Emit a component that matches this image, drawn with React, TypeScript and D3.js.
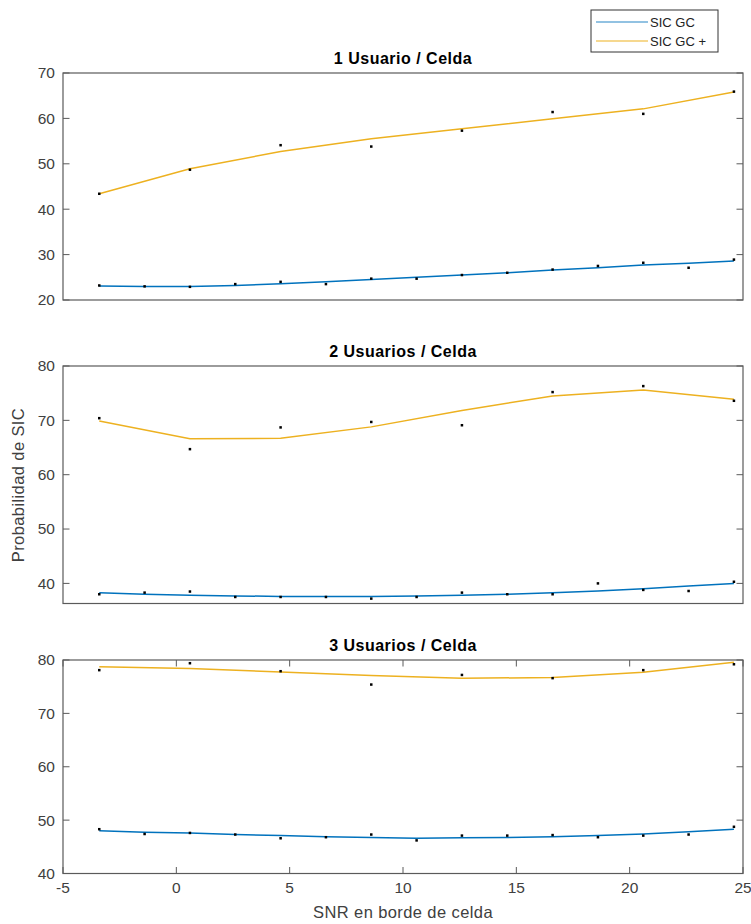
import React from "react";
import * as d3 from "d3";

const xAll = [-3.4, -1.4, 0.6, 2.6, 4.6, 6.6, 8.6, 10.6, 12.6, 14.6, 16.6, 18.6, 20.6, 22.6, 24.6];
const xPlus = [-3.4, 0.6, 4.6, 8.6, 12.6, 16.6, 20.6, 24.6];

const titles = ["1 Usuario / Celda", "2 Usuarios / Celda", "3 Usuarios / Celda"];
const yDomains: [number, number][] = [[20, 70], [36.3, 80], [40, 80]];
const yTicks = [[20, 30, 40, 50, 60, 70], [40, 50, 60, 70, 80], [40, 50, 60, 70, 80]];
const xTicks = [-5, 0, 5, 10, 15, 20, 25];

// SIC GC (blue) raw points and fitted curve
const gcDots1 = [23.2, 23.0, 22.9, 23.5, 24.0, 23.5, 24.7, 24.7, 25.5, 26.0, 26.7, 27.5, 28.2, 27.1, 28.9];
const gcFit1 = [23.1, 23.0, 23.0, 23.2, 23.6, 24.0, 24.5, 25.0, 25.5, 26.0, 26.6, 27.1, 27.7, 28.1, 28.6];
const gcDots2 = [38.0, 38.3, 38.5, 37.5, 37.5, 37.5, 37.2, 37.5, 38.3, 38.0, 38.0, 40.0, 38.8, 38.6, 40.3];
const gcFit2 = [38.3, 38.0, 37.8, 37.7, 37.6, 37.6, 37.6, 37.7, 37.8, 38.0, 38.3, 38.6, 39.0, 39.5, 40.0];
const gcDots3 = [48.3, 47.4, 47.6, 47.3, 46.6, 46.8, 47.3, 46.2, 47.1, 47.1, 47.2, 46.8, 47.1, 47.3, 48.75];
const gcFit3 = [48.0, 47.75, 47.6, 47.3, 47.1, 46.9, 46.75, 46.6, 46.7, 46.75, 46.9, 47.1, 47.4, 47.8, 48.3];

// SIC GC + (orange) raw points and fitted curve
const plusDots1 = [43.4, 48.7, 54.1, 53.8, 57.3, 61.4, 61.0, 65.9];
const plusFit1 = [43.4, 48.9, 52.7, 55.5, 57.7, 59.9, 62.1, 65.8];
const plusDots2 = [70.4, 64.7, 68.7, 69.7, 69.1, 75.2, 76.3, 73.6];
const plusFit2 = [69.9, 66.6, 66.7, 68.8, 71.8, 74.5, 75.6, 73.9];
const plusDots3 = [78.1, 79.4, 77.9, 75.4, 77.2, 76.6, 78.1, 79.2];
const plusFit3 = [78.75, 78.4, 77.75, 77.1, 76.6, 76.7, 77.7, 79.6];

const gcDots = [gcDots1, gcDots2, gcDots3];
const gcFit = [gcFit1, gcFit2, gcFit3];
const plusDots = [plusDots1, plusDots2, plusDots3];
const plusFit = [plusFit1, plusFit2, plusFit3];

const BLUE = "#0072BD";
const ORANGE = "#EDB120";
const AXIS = "#5a5a5a";
const TXT = "#404040";
const FONT = "Liberation Sans, Arial, sans-serif";

const left = 63;
const right = 743;
const panels = [
  { top: 73, bottom: 300 },
  { top: 366, bottom: 603.5 },
  { top: 660, bottom: 873.5 },
];

export default function App() {
  const x = d3.scaleLinear().domain([-5, 25]).range([left, right]);
  const tickLen = 6.5;

  return (
    <svg width={751} height={924} style={{ position: "absolute", left: 0, top: 0, background: "#fff" }} fontFamily={FONT}>
      <rect x={0} y={0} width={751} height={924} fill="#fff" />
      {panels.map((p, i) => {
        const y = d3.scaleLinear().domain(yDomains[i]).range([p.bottom, p.top]);
        const line = d3.line<[number, number]>().x((d) => x(d[0])).y((d) => y(d[1]));
        const gcLine = line(xAll.map((v, k) => [v, gcFit[i][k]] as [number, number])) || "";
        const plusLine = line(xPlus.map((v, k) => [v, plusFit[i][k]] as [number, number])) || "";
        return (
          <g key={i}>
            <text x={(left + right) / 2} y={p.top - 9} textAnchor="middle" fontSize={16} letterSpacing={0.5} fontWeight="bold" fill="#000">
              {titles[i]}
            </text>
            {yTicks[i].map((t) => (
              <g key={t}>
                <line x1={left} x2={left + tickLen} y1={y(t)} y2={y(t)} stroke={AXIS} strokeWidth={1} />
                <line x1={right} x2={right - tickLen} y1={y(t)} y2={y(t)} stroke={AXIS} strokeWidth={1} />
                <text x={left - 8} y={y(t)} dy="0.35em" textAnchor="end" fontSize={15.5} fill={TXT}>
                  {t}
                </text>
              </g>
            ))}
            {i === 2 &&
              xTicks.map((t) => (
                <g key={"x" + t}>
                  <line x1={x(t)} x2={x(t)} y1={p.bottom} y2={p.bottom - tickLen} stroke={AXIS} strokeWidth={1} />
                  <line x1={x(t)} x2={x(t)} y1={p.top} y2={p.top + tickLen} stroke={AXIS} strokeWidth={1} />
                  <text x={x(t)} y={p.bottom + 19} textAnchor="middle" fontSize={15.5} fill={TXT}>
                    {t}
                  </text>
                </g>
              ))}
            <path d={gcLine} fill="none" stroke={BLUE} strokeWidth={1.5} />
            <path d={plusLine} fill="none" stroke={ORANGE} strokeWidth={1.5} />
            {xAll.map((v, k) => (
              <rect key={"g" + k} x={x(v) - 1.25} y={y(gcDots[i][k]) - 1.25} width={2.5} height={2.5} fill="#000" />
            ))}
            {xPlus.map((v, k) => (
              <rect key={"p" + k} x={x(v) - 1.25} y={y(plusDots[i][k]) - 1.25} width={2.5} height={2.5} fill="#000" />
            ))}
            <rect x={left} y={p.top} width={right - left} height={p.bottom - p.top} fill="none" stroke={AXIS} strokeWidth={1.2} />
          </g>
        );
      })}
      <text transform={`translate(24, 485) rotate(-90)`} textAnchor="middle" fontSize={16.5} letterSpacing={0.4} fill={TXT}>
        Probabilidad de SIC
      </text>
      <text x={(left + right) / 2} y={918} textAnchor="middle" fontSize={16.5} letterSpacing={0.4} fill={TXT}>
        SNR en borde de celda
      </text>
      <g>
        <rect x={591} y={10} width={127} height={42} fill="#fff" stroke="#333" strokeWidth={1} />
        <line x1={596} x2={648} y1={22} y2={22} stroke={BLUE} strokeWidth={1.2} opacity={0.85} />
        <line x1={596} x2={648} y1={41} y2={41} stroke={ORANGE} strokeWidth={1.2} />
        <text x={650} y={22} dy="0.35em" fontSize={13} fill="#222">
          SIC GC
        </text>
        <text x={650} y={41} dy="0.35em" fontSize={13} fill="#222">
          SIC GC +
        </text>
      </g>
    </svg>
  );
}
